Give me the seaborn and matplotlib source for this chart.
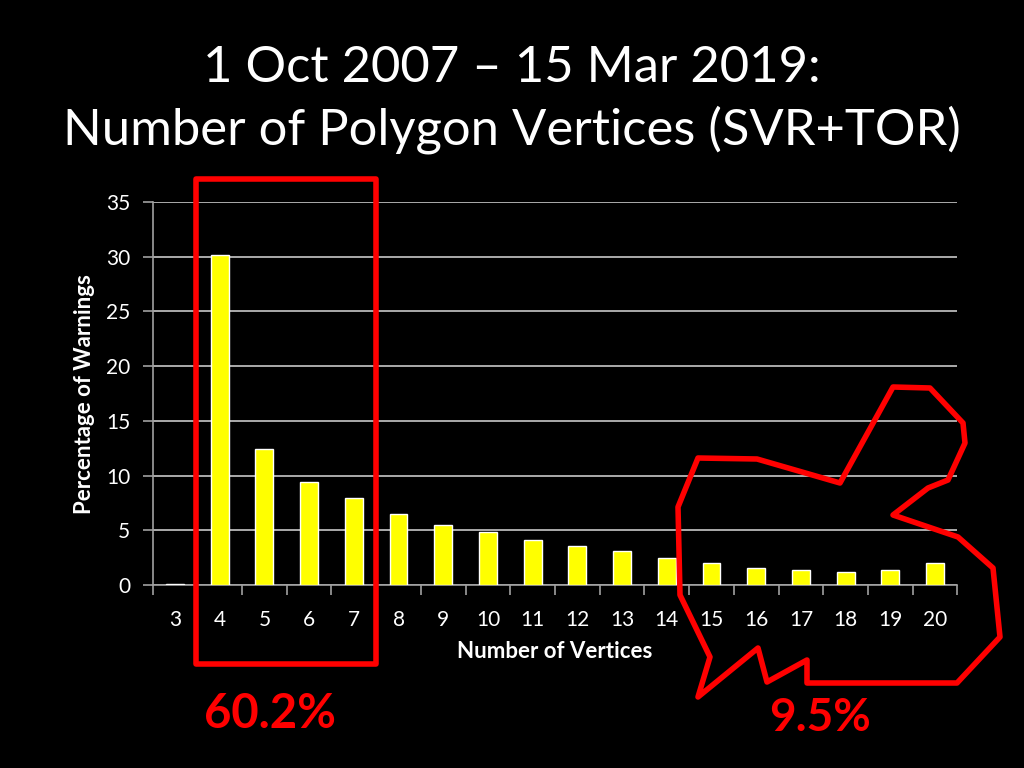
import numpy as np
import pandas as pd
import seaborn as sns
import matplotlib.pyplot as plt
from matplotlib.patches import Rectangle, Polygon
from matplotlib.transforms import Affine2D

vertices = [3, 4, 5, 6, 7, 8, 9, 10, 11, 12, 13, 14, 15, 16, 17, 18, 19, 20]
pct_warnings = [0.1, 30.2, 12.4, 9.4, 8.0, 6.5, 5.5, 4.9, 4.1, 3.6, 3.1, 2.5, 2.0, 1.6, 1.35, 1.25, 1.35, 2.0]
y_ticks = [0, 5, 10, 15, 20, 25, 30, 35]

df = pd.DataFrame({"vertices": [str(v) for v in vertices], "pct": pct_warnings})

sns.set_theme(style="dark")
plt.rcParams["font.family"] = ["Lato", "DejaVu Sans"]

fig = plt.figure(figsize=(10.24, 7.68), dpi=100, facecolor="black")
ax = fig.add_axes([0.149, 0.238, 0.786, 0.499])
ax.set_facecolor("black")

sns.barplot(data=df, x="vertices", y="pct", color="#ffff00", width=0.4,
            saturation=1, ax=ax, zorder=3)

ax.set_ylim(0, 35)
ax.set_xlim(-0.5, len(vertices) - 0.5)
ax.set_yticks(y_ticks)
ax.grid(axis="y", color="#c8c8c8", linewidth=1.2, zorder=0)
ax.grid(axis="x", visible=False)

for side in ["top", "right"]:
    ax.spines[side].set_visible(False)
for side in ["left", "bottom"]:
    ax.spines[side].set_visible(True)
    ax.spines[side].set_color("#a0a0a0")
    ax.spines[side].set_linewidth(1.2)

ax.tick_params(axis="y", colors="#a0a0a0", labelcolor="white", labelsize=15,
               length=7, width=1.2, direction="out", left=True, pad=9)
ax.tick_params(axis="x", which="major", length=0, labelcolor="white", labelsize=15, pad=18)
ax.set_xticks(np.arange(-0.5, len(vertices)), minor=True)
ax.tick_params(axis="x", which="minor", colors="#a0a0a0", length=7, width=1.2,
               direction="out", bottom=True)

ax.set_xlabel("Number of Vertices", color="white", fontsize=16, fontweight="bold", labelpad=8)
ax.set_ylabel("Percentage of Warnings", color="white", fontsize=16, fontweight="bold", labelpad=8)

fig.text(0.5, 0.912, "1 Oct 2007 \u2013 15 Mar 2019:", color="white", fontsize=36.5,
         ha="center", va="center")
fig.text(0.5, 0.831, "Number of Polygon Vertices (SVR+TOR)", color="white", fontsize=36.5,
         ha="center", va="center")

# hand-drawn red highlights, in figure pixel coordinates (y down)
px = Affine2D().scale(1 / 1024, -1 / 768).translate(0, 1) + fig.transFigure
fig.patches.append(Rectangle((196, 179), 180, 485, fill=False, edgecolor="#ff0000",
                             linewidth=4, transform=px, joinstyle="round"))
blob = [(698, 458), (678, 507), (680, 595), (710, 657), (698, 697), (758, 648),
        (767, 682), (807, 660), (807, 683), (957, 683), (1000, 637), (993, 568),
        (958, 537), (893, 515), (928, 488), (948, 480), (965, 443), (963, 423),
        (930, 388), (893, 387), (840, 483), (757, 459)]
fig.patches.append(Polygon(blob, closed=True, fill=False, edgecolor="#ff0000",
                           linewidth=4, transform=px, joinstyle="round"))

fig.text(270 / 1024, 1 - 714 / 768, "60.2%", color="#ff0000", fontsize=34,
         fontweight="bold", ha="center", va="center")
fig.text(820 / 1024, 1 - 718 / 768, "9.5%", color="#ff0000", fontsize=33,
         fontweight="bold", ha="center", va="center")

fig.savefig("out.png", dpi=100, facecolor="black")
